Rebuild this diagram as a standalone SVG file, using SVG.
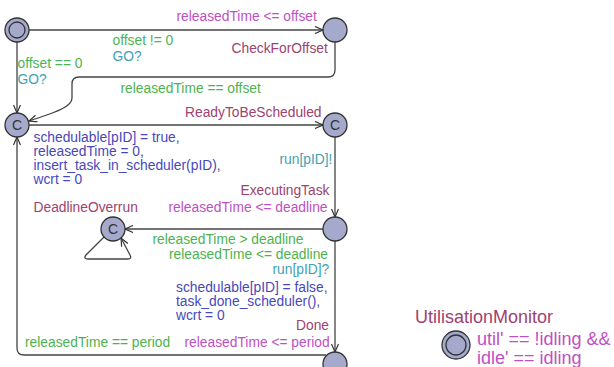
<svg xmlns="http://www.w3.org/2000/svg" width="614" height="367" viewBox="0 0 614 367">
  <style>
    text { font-family: "Liberation Sans", Arial, sans-serif; font-size: 13.8px; }
    .name { fill: #9e4270; }
    .inv { fill: #bf4fc4; }
    .guard { fill: #4db34f; }
    .sync { fill: #3ea2b4; }
    .upd { fill: #4848bc; }
    .loc { fill: #a5aacd; stroke: #333; stroke-width: 1.3; }
    .inner { fill: none; stroke: #333; stroke-width: 1.3; }
    .edge { fill: none; stroke: #444; stroke-width: 1.3; }
    .c { font-size: 14px; fill: #333; text-anchor: middle; }
    .big { font-size: 18px; }
  </style>
  <defs>
    <marker id="arrow" viewBox="0 0 10 8" refX="9" refY="4" markerWidth="10" markerHeight="8" markerUnits="userSpaceOnUse" orient="auto">
      <path d="M1,0.5 L9,4 L1,7.5" fill="none" stroke="#333" stroke-width="1.2"/>
    </marker>
  </defs>

  <!-- transitions -->
  <g id="edges">
    <path class="edge" d="M29,30 L323,30" marker-end="url(#arrow)"/>
    <path class="edge" d="M17,42 L17,113" marker-end="url(#arrow)"/>
    <path class="edge" d="M335,42 L335,70 Q335,77 328,77 L79,77 Q72,77 72,84 L72,98 C72,106 60,111 29,121" marker-end="url(#arrow)"/>
    <path class="edge" d="M29,125 L323,125" marker-end="url(#arrow)"/>
    <path class="edge" d="M335,137 L335,217" marker-end="url(#arrow)"/>
    <path class="edge" d="M323,229 L125,229" marker-end="url(#arrow)"/>
    <path class="edge" d="M104,237 L86,255 Q83,259 88,259 L128,259 Q132,259 130,255 L121,238" marker-end="url(#arrow)"/>
    <path class="edge" d="M335,241 L335,352" marker-end="url(#arrow)"/>
    <path class="edge" d="M326,355 L24,355 Q17,355 17,348 L17,137" marker-end="url(#arrow)"/>
  </g>

  <!-- locations -->
  <g id="init">
    <circle class="loc" cx="17" cy="30" r="12"/>
    <circle class="inner" cx="17" cy="30" r="8"/>
  </g>
  <g id="CheckForOffset">
    <circle class="loc" cx="335" cy="30" r="12"/>
    <text class="name" x="231.5" y="53">CheckForOffset</text>
  </g>
  <g id="committed">
    <circle class="loc" cx="17" cy="125" r="12"/>
    <text class="c" x="17" y="130">C</text>
  </g>
  <g id="ReadyToBeScheduled">
    <circle class="loc" cx="335" cy="125" r="12"/>
    <text class="c" x="335" y="130">C</text>
    <text class="name" x="185" y="117">ReadyToBeScheduled</text>
  </g>
  <g id="ExecutingTask">
    <circle class="loc" cx="335" cy="229" r="12"/>
    <text class="name" x="240.5" y="195">ExecutingTask</text>
    <text class="inv" x="168.5" y="211.5">releasedTime &lt;= deadline</text>
  </g>
  <g id="DeadlineOverrun">
    <circle class="loc" cx="113" cy="229" r="12"/>
    <text class="c" x="113" y="234">C</text>
    <text class="name" x="33.5" y="211.5">DeadlineOverrun</text>
  </g>
  <g id="Done">
    <circle class="loc" cx="335" cy="364" r="12"/>
    <text class="name" x="296" y="330">Done</text>
    <text class="inv" x="184.5" y="347">releasedTime &lt;= period</text>
  </g>
  <g id="UtilisationMonitor">
    <circle class="loc" cx="456" cy="345" r="14" stroke-width="1.6"/>
    <circle class="inner" cx="456" cy="345" r="10" stroke-width="1.6"/>
    <text class="name big" x="415" y="323">UtilisationMonitor</text>
    <text class="inv big" x="477" y="345">util' == !idling &amp;&amp;</text>
    <text class="inv big" x="477" y="364">idle' == idling</text>
  </g>

  <!-- transition labels -->
  <g id="labels">
    <text class="inv" x="176.5" y="21">releasedTime &lt;= offset</text>
    <text class="guard" x="112.5" y="45">offset != 0</text>
    <text class="sync" x="112.5" y="60.5">GO?</text>
    <text class="guard" x="17.5" y="68">offset == 0</text>
    <text class="sync" x="17.5" y="84">GO?</text>
    <text class="guard" x="120.5" y="92.5">releasedTime == offset</text>
    <text class="upd" x="33.5" y="141.5">schedulable[pID] = true,</text>
    <text class="upd" x="33.5" y="155.5">releasedTime = 0,</text>
    <text class="upd" x="33.5" y="169.5">insert_task_in_scheduler(pID),</text>
    <text class="upd" x="33.5" y="183.5">wcrt = 0</text>
    <text class="sync" x="279.5" y="164">run[pID]!</text>
    <text class="guard" x="152.5" y="243.5">releasedTime &gt; deadline</text>
    <text class="guard" x="169" y="258.5">releasedTime &lt;= deadline</text>
    <text class="sync" x="272.5" y="274">run[pID]?</text>
    <text class="upd" x="176" y="291.5">schedulable[pID] = false,</text>
    <text class="upd" x="176" y="305.5">task_done_scheduler(),</text>
    <text class="upd" x="176" y="319.5">wcrt = 0</text>
    <text class="guard" x="25" y="347">releasedTime == period</text>
  </g>
</svg>
